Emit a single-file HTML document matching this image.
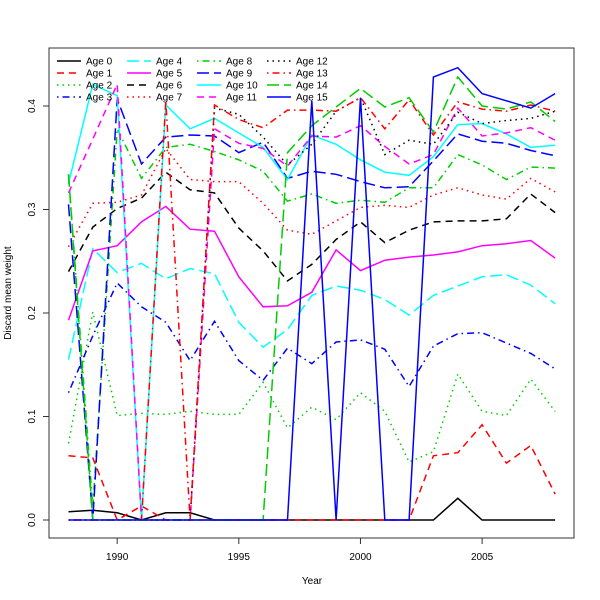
<!DOCTYPE html>
<html><head><meta charset="utf-8"><style>
html,body{margin:0;padding:0;background:#fff;}
svg{display:block;font-family:"Liberation Sans","DejaVu Sans",sans-serif;}
</style></head><body>
<svg id="chart" width="600" height="600" viewBox="0 0 600 600" xmlns="http://www.w3.org/2000/svg">
<rect width="600" height="600" fill="#fff"/>
<g id="series"></g>
<g id="legend"></g>
<rect x="49" y="48" width="525" height="490" fill="none" stroke="#333" stroke-width="1"/>
<g id="axes"></g>
<text x="312" y="584" font-size="10" text-anchor="middle">Year</text>
<text x="0" y="0" font-size="10" text-anchor="middle" transform="translate(11,293) rotate(-90)">Discard mean weight</text>
</svg>
<script>
const years = [1988,1989,1990,1991,1992,1993,1994,1995,1996,1997,1998,1999,2000,2001,2002,2003,2004,2005,2006,2007,2008];
const age0 = [0.008,0.0095,0.007,0,0.007,0.007,0,0,0,0,0,0,0,0,0,0,0.021,0,0,0,0];
const age1 = [0.062,0.060,0,0.0135,0,0,0,0,0,0,0,0,0,0,0,0.062,0.065,0.092,0.055,0.072,0.025];
const age2 = [0.074,0.201,0.101,0.103,0.102,0.105,0.102,0.102,0.133,0.089,0.109,0.097,0.123,0.105,0.056,0.066,0.141,0.105,0.101,0.136,0.105];
const age3 = [0.123,0.178,0.229,0.206,0.191,0.154,0.192,0.154,0.135,0.166,0.151,0.172,0.174,0.165,0.129,0.168,0.180,0.181,0.171,0.161,0.146];
const age4 = [0.155,0.262,0.239,0.248,0.233,0.243,0.238,0.191,0.167,0.184,0.217,0.226,0.222,0.213,0.198,0.217,0.226,0.235,0.237,0.227,0.209];
const age5 = [0.193,0.260,0.265,0.288,0.303,0.281,0.279,0.235,0.206,0.207,0.220,0.261,0.241,0.251,0.254,0.256,0.259,0.265,0.267,0.270,0.253];
const age6 = [0.240,0.283,0.301,0.311,0.336,0.319,0.316,0.282,0.260,0.231,0.247,0.271,0.288,0.268,0.280,0.288,0.289,0.289,0.291,0.315,0.297];
const age7 = [0.264,0.306,0.307,0.314,0.359,0.329,0.327,0.327,0.306,0.280,0.276,0.289,0.302,0.304,0.302,0.314,0.321,0.314,0.310,0.330,0.317];
const age8 = [0.334,0.012,0.378,0.330,0.360,0.363,0.356,0.348,0.337,0.308,0.315,0.306,0.309,0.307,0.321,0.321,0.353,0.343,0.329,0.341,0.340];
const age9 = [0.305,0,0.407,0.344,0.370,0.372,0.371,0.355,0.365,0.330,0.337,0.334,0.327,0.321,0.322,0.347,0.373,0.366,0.364,0.357,0.352];
const age10 = [0.325,0.421,0.410,0,0.401,0.378,0.388,0.374,0.360,0.329,0.372,0.363,0.348,0.336,0.333,0.351,0.382,0.383,0.373,0.360,0.362];
const age11 = [0.316,0.368,0.421,0,0,0,0.378,0.364,0.359,0.342,0.371,0.370,0.381,0.361,0.344,0.353,0.398,0.371,0.374,0.379,0.367];
const age12 = [0,0,0,0,0,0,0.398,0.392,0.370,0.343,0.363,0.395,0.408,0.353,0.367,0.363,0.394,0.383,0.386,0.388,0.395];
const age13 = [0,0,0,0,0.405,0,0.401,0.387,0.379,0.396,0.396,0.395,0.408,0.378,0.406,0.372,0.404,0.397,0.395,0.401,0.395];
const age14 = [0.334,0,0,0,0,0,0,0,0,0.355,0.381,0.399,0.417,0.399,0.408,0.375,0.428,0.400,0.397,0.404,0.385];
const age15 = [0,0,0,0,0,0,0,0,0,0,0.405,0,0.408,0,0,0.428,0.437,0.412,0.405,0.398,0.412];
const seriesNames = ["Age 0","Age 1","Age 2","Age 3","Age 4","Age 5","Age 6","Age 7","Age 8","Age 9","Age 10","Age 11","Age 12","Age 13","Age 14","Age 15"];
const xTicks = [1990,1995,2000,2005];
const yTicks = [0.0,0.1,0.2,0.3,0.4];
const yTickLabels = ["0.0","0.1","0.2","0.3","0.4"];

const allSeries = [age0,age1,age2,age3,age4,age5,age6,age7,age8,age9,age10,age11,age12,age13,age14,age15];
const colors = ["#000","#ff0000","#00cd00","#0000ff","#00ffff","#ff00ff"];
const dashes = ["", "7,5", "1.5,4", "1.5,4,7,4", "12,5"];
const NS = "http://www.w3.org/2000/svg";
function xs(v){ return 68.5 + (v-1988)*24.33; }
function ys(v){ return 520 - v*1035; }

const sg = document.getElementById('series');
allSeries.forEach((vals,i)=>{
  const p = document.createElementNS(NS,'path');
  p.setAttribute('d', vals.map((v,j)=>(j?'L':'M')+xs(years[j]).toFixed(1)+','+ys(v).toFixed(1)).join(''));
  p.setAttribute('fill','none');
  p.setAttribute('stroke',colors[i%6]);
  p.setAttribute('stroke-width','1.5');
  if(dashes[i%5]) p.setAttribute('stroke-dasharray',dashes[i%5]);
  
  
  sg.appendChild(p);
});

const ax = document.getElementById('axes');
xTicks.forEach(t=>{
  const l = document.createElementNS(NS,'line');
  l.setAttribute('x1',xs(t));l.setAttribute('x2',xs(t));l.setAttribute('y1',538);l.setAttribute('y2',544);
  l.setAttribute('stroke','#333');
  
  
  ax.appendChild(l);
  const tx = document.createElementNS(NS,'text');
  tx.setAttribute('x',xs(t));tx.setAttribute('y',560);tx.setAttribute('font-size','10');tx.setAttribute('text-anchor','middle');
  tx.textContent = t;
  
  
  ax.appendChild(tx);
});
yTicks.forEach((t,i)=>{
  const l = document.createElementNS(NS,'line');
  l.setAttribute('x1',43);l.setAttribute('x2',49);l.setAttribute('y1',ys(t));l.setAttribute('y2',ys(t));
  l.setAttribute('stroke','#333');
  
  
  ax.appendChild(l);
  const tx = document.createElementNS(NS,'text');
  tx.setAttribute('transform','translate(35,'+ys(t)+') rotate(-90)');
  tx.setAttribute('font-size','10');tx.setAttribute('text-anchor','middle');
  tx.textContent = yTickLabels[i];
  
  
  ax.appendChild(tx);
});

const lg = document.getElementById('legend');
seriesNames.forEach((n,i)=>{
  const col = Math.floor(i/4), row = i%4;
  const x0 = 57 + col*70, y0 = 61 + row*12;
  const l = document.createElementNS(NS,'line');
  l.setAttribute('x1',x0);l.setAttribute('x2',x0+24);l.setAttribute('y1',y0);l.setAttribute('y2',y0);
  l.setAttribute('stroke',colors[i%6]);l.setAttribute('stroke-width','1.5');
  if(dashes[i%5]) l.setAttribute('stroke-dasharray',dashes[i%5]);
  
  
  lg.appendChild(l);
  const tx = document.createElementNS(NS,'text');
  tx.setAttribute('x',x0+29);tx.setAttribute('y',y0+3.5);tx.setAttribute('font-size','10');
  tx.textContent = n;
  
  
  lg.appendChild(tx);
});
</script>
</body></html>
